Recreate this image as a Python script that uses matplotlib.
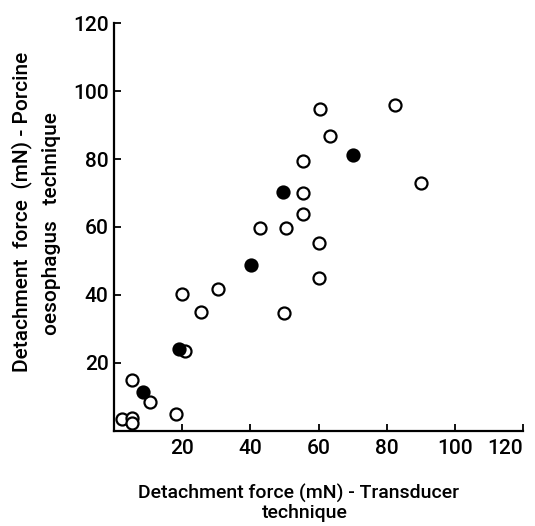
import numpy as np
import matplotlib
matplotlib.use("Agg")
import matplotlib.pyplot as plt

# open circles: (transducer, porcine oesophagus)
open_x = [60.5, 82.4, 63.2, 55.3, 55.5, 55.3, 42.8, 50.5, 60.2, 90.1, 60.1, 50.0,
          19.9, 30.4, 25.4, 20.8, 5.2, 10.6, 18.1, 2.3, 5.3, 5.3]
open_y = [94.7, 95.9, 86.9, 79.4, 69.9, 63.7, 59.6, 59.6, 55.2, 72.9, 44.9, 34.8,
          40.3, 41.7, 34.9, 23.5, 15.0, 8.6, 4.9, 3.5, 3.9, 2.2]

# filled circles
fill_x = [70.0, 49.5, 40.1, 19.2, 8.6]
fill_y = [81.2, 70.4, 48.8, 24.0, 11.3]

ticks = [20, 40, 60, 80, 100, 120]

plt.rcParams['font.family'] = ['Roboto', 'DejaVu Sans']
plt.rcParams['font.weight'] = 'medium'

fig = plt.figure(figsize=(5.35, 5.26), dpi=100)
ax = fig.add_axes([0.213, 0.181, 0.765, 0.775])

ax.scatter(open_x, open_y, s=75, facecolors='white', edgecolors='black',
           linewidths=1.6, clip_on=False, zorder=3)
ax.scatter(fill_x, fill_y, s=75, facecolors='black', edgecolors='black',
           linewidths=1.6, clip_on=False, zorder=4)

ax.set_xlim(0, 120)
ax.set_ylim(0, 120)
ax.set_xticks(ticks)
ax.set_yticks(ticks)
ax.tick_params(direction='in', length=5, width=1.3, labelsize=15)
ax.tick_params(axis='x', pad=6)
ax.tick_params(axis='y', pad=4)
# last x label sits a little left of its tick, as in the original
ax.get_xticklabels()[-1].set_horizontalalignment('right')
ax.get_xticklabels()[-1].set_x(122)

for s in ['top', 'right']:
    ax.spines[s].set_visible(False)
for s in ['left', 'bottom']:
    ax.spines[s].set_linewidth(1.6)

# axis titles, two lines each
fig.text(299 / 535, 1 - 493 / 526, "Detachment force (mN) - Transducer",
         fontsize=14, ha='center', va='center')
fig.text(305 / 535, 1 - 513 / 526, "technique",
         fontsize=14, ha='center', va='center')
fig.text(22 / 535, 1 - 212 / 526, "Detachment  force  (mN) - Porcine",
         fontsize=15, ha='center', va='center', rotation=90)
fig.text(52 / 535, 1 - 224 / 526, "oesophagus   technique",
         fontsize=15, ha='center', va='center', rotation=90)

fig.savefig("out.png", dpi=100)
